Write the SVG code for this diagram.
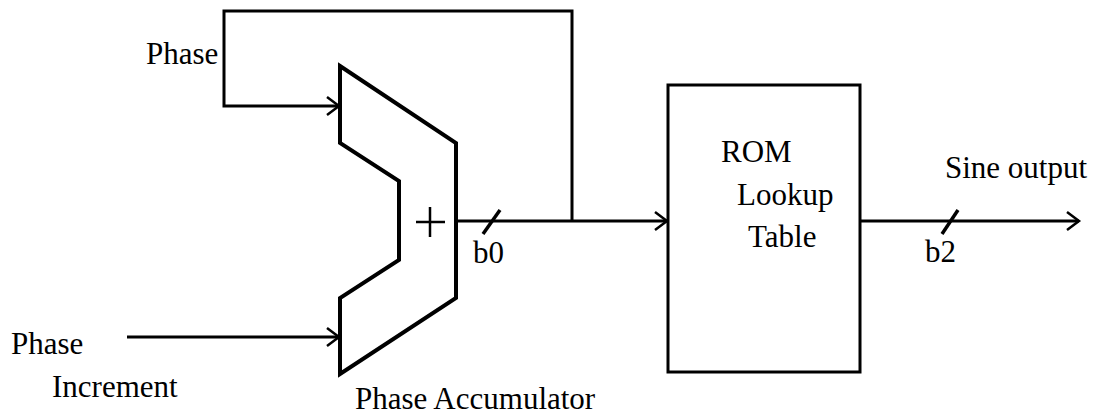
<svg xmlns="http://www.w3.org/2000/svg" width="1100" height="417" viewBox="0 0 1100 417">
  <style>
    .t { font-family: "Liberation Serif", "Times New Roman", serif; font-size: 31px; fill: #000; }
    .w { fill: none; stroke: #000; stroke-width: 3; stroke-linejoin: miter; }
    .thick { fill: #fff; stroke: #000; stroke-width: 4; stroke-linejoin: miter; }
  </style>
  <defs>
    <marker id="arr" markerUnits="userSpaceOnUse" markerWidth="20" markerHeight="24" viewBox="-14 -12 16 24" refX="0" refY="0" orient="auto">
      <path d="M-12,-9 L0,0 L-12,9" fill="none" stroke="#000" stroke-width="2.5"/>
    </marker>
  </defs>
  <rect width="1100" height="417" fill="#fff"/>

  <g id="connectors">
    <polyline class="w" points="572,221 572,11 224,11 224,106 339,106" marker-end="url(#arr)"/>
    <line class="w" x1="127" y1="337" x2="339" y2="337" marker-end="url(#arr)"/>
    <line class="w" x1="456" y1="221" x2="667" y2="221" marker-end="url(#arr)"/>
    <line class="w" x1="860" y1="221" x2="1079" y2="221" marker-end="url(#arr)"/>
    <line x1="483" y1="234" x2="500" y2="210" stroke="#000" stroke-width="3.5"/>
    <line x1="942" y1="234" x2="958" y2="210" stroke="#000" stroke-width="3.5"/>
    <text class="t" x="473" y="263">b0</text>
    <text class="t" x="925" y="262">b2</text>
  </g>

  <g id="phase-label">
    <text class="t" x="146" y="64">Phase</text>
  </g>

  <g id="phase-increment">
    <text class="t" x="11" y="354">Phase</text>
    <text class="t" x="52" y="397">Increment</text>
  </g>

  <g id="phase-accumulator">
    <polygon class="thick" points="340,66 456,143 456,298 340,374 340,298 399,260 399,181 340,143"/>
    <path d="M416,222 H445 M430,207 V237" stroke="#000" stroke-width="2.5" fill="none"/>
    <text class="t" x="355" y="409">Phase Accumulator</text>
  </g>

  <g id="rom-lookup">
    <rect x="668" y="85" width="192" height="287" fill="#fff" stroke="#000" stroke-width="3"/>
    <text class="t" x="721" y="162">ROM</text>
    <text class="t" x="737" y="205">Lookup</text>
    <text class="t" x="748" y="247">Table</text>
  </g>

  <g id="sine-output">
    <text class="t" x="945" y="178">Sine output</text>
  </g>
</svg>
